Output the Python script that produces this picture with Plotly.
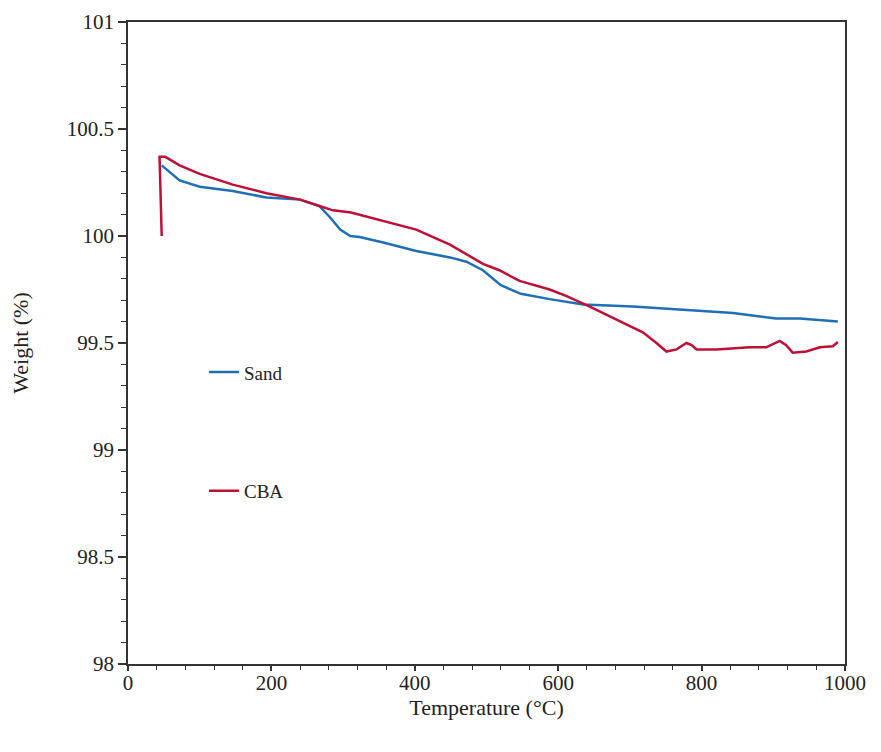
import plotly.graph_objects as go

# Sand (blue)
sand_T = [47, 72, 100, 146, 193, 240, 267, 281, 296, 310, 323, 356, 402, 449, 472, 495, 520,
          548, 588, 635, 704, 751, 797, 844, 890, 904, 937, 990]
sand_W = [100.33, 100.26, 100.23, 100.21, 100.18, 100.17, 100.14, 100.09, 100.03, 100.00,
          99.995, 99.97, 99.93, 99.90, 99.88, 99.84, 99.77, 99.73, 99.705, 99.68, 99.67,
          99.66, 99.65, 99.64, 99.62, 99.615, 99.615, 99.60]

# CBA (red)
cba_T = [47, 44, 52, 72, 100, 146, 193, 240, 267, 286, 311, 356, 402, 449, 495, 518, 546,
         588, 611, 644, 681, 718, 737, 751, 765, 779, 786, 793, 821, 867, 890, 909, 918,
         927, 946, 965, 983, 990]
cba_W = [100.00, 100.37, 100.37, 100.33, 100.29, 100.24, 100.20, 100.17, 100.14, 100.12,
         100.11, 100.07, 100.03, 99.96, 99.87, 99.84, 99.79, 99.75, 99.72, 99.67, 99.61,
         99.55, 99.50, 99.46, 99.47, 99.50, 99.49, 99.47, 99.47, 99.48, 99.48, 99.51, 99.49,
         99.455, 99.46, 99.48, 99.485, 99.505]

x_ticks = [0, 200, 400, 600, 800, 1000]
y_ticks = [98, 98.5, 99, 99.5, 100, 100.5, 101]
y_tick_labels = ["98", "98.5", "99", "99.5", "100", "100.5", "101"]

font_family = "Liberation Serif, Times New Roman, serif"

fig = go.Figure()
fig.add_trace(go.Scatter(x=sand_T, y=sand_W, mode="lines", name="Sand",
                         legendgroup="sand",
                         line=dict(color="#1F6FB4", width=2.5)))
fig.add_trace(go.Scatter(x=cba_T, y=cba_W, mode="lines", name="CBA",
                         legendgroup="cba",
                         line=dict(color="#BE1035", width=2.5)))

axis_common = dict(showline=True, linecolor="#333333", linewidth=1.5, mirror=True,
                   showgrid=False, zeroline=False, ticks="outside", tickcolor="#333333",
                   tickwidth=1.5,
                   tickfont=dict(family=font_family, size=21, color="#222222"))

fig.update_xaxes(range=[0, 1000], tickvals=x_ticks, ticklen=5, ticklabelstandoff=-6,
                 minor=dict(dtick=40, ticks="outside", ticklen=4, tickcolor="#333333", tickwidth=1.2),
                 title=dict(text="Temperature (°C)", font=dict(family=font_family, size=22, color="#222222"),
                            standoff=0),
                 **axis_common)
fig.update_yaxes(range=[98, 101], tickvals=y_ticks, ticktext=y_tick_labels, ticklen=8,
                 minor=dict(dtick=0.1, ticks="outside", ticklen=5, tickcolor="#333333", tickwidth=1.2),
                 title=dict(text="Weight (%)", font=dict(family=font_family, size=22, color="#222222"),
                            standoff=35),
                 **axis_common)

fig.update_layout(
    width=873, height=744,
    margin=dict(l=120, r=36, t=14, b=88, autoexpand=False),
    paper_bgcolor="white", plot_bgcolor="white",
    font=dict(family=font_family, color="#222222"),
    showlegend=True,
    legend=dict(x=0.106, y=0.484, xanchor="left", yanchor="top",
                bgcolor="rgba(0,0,0,0)", tracegroupgap=91,
                font=dict(family=font_family, size=19, color="#222222")),
)

fig.write_html("out.html")
